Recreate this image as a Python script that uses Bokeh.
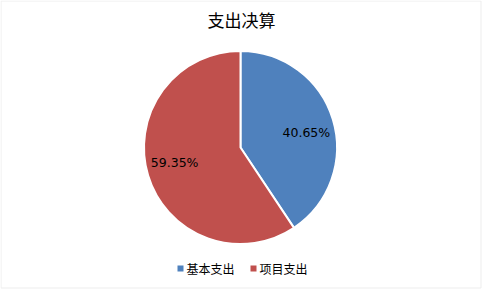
import math
from bokeh.plotting import figure
from bokeh.models import Range1d, ColumnDataSource
from bokeh.core.properties import value
from bokeh.embed import file_html
from bokeh.resources import INLINE

title = "支出决算"
categories = ["基本支出", "项目支出"]
shares = [40.65, 59.35]
colors = ["#4F81BD", "#C0504D"]

W, H = 482, 290
p = figure(width=W, height=H, output_backend="svg", toolbar_location=None,
           x_range=Range1d(0, W), y_range=Range1d(0, H), min_border=0)
p.axis.visible = False
p.grid.visible = False
p.outline_line_color = None
p.background_fill_color = "white"
p.border_fill_color = "white"

# chart frame
p.quad(left=[0.5], right=[480.5], bottom=[H - 287.5], top=[H - 0.5],
       fill_color=None, line_color="#EDEDED", line_width=1)

# pie, starting at 12 o'clock and running clockwise
cx, cy, r = 240, H - 147, 96.5
total = sum(shares)
starts, ends, lx, ly, labels = [], [], [], [], []
acc = 0.0
for s in shares:
    a0 = math.pi / 2 - 2 * math.pi * acc / total
    a1 = math.pi / 2 - 2 * math.pi * (acc + s) / total
    starts.append(a0)
    ends.append(a1)
    mid = (a0 + a1) / 2 - 0.07
    lx.append(cx + 0.70 * r * math.cos(mid))
    ly.append(cy + 0.70 * r * math.sin(mid))
    labels.append(f"{s:.2f}%")
    acc += s

src = ColumnDataSource(dict(start=starts, end=ends, color=colors,
                            lx=lx, ly=ly, label=labels))
p.wedge(x=cx, y=cy, radius=r, start_angle="start", end_angle="end",
        direction="clock", fill_color="color", line_color="white",
        line_width=2, source=src)
p.text(x="lx", y="ly", text="label", source=src, text_align="center",
       text_baseline="middle", text_font=value("DejaVu Sans"),
       text_font_size="12.5px", text_color="#000000")

# title
p.text(x=[W / 2], y=[H - 19], text=[title], text_align="center",
       text_baseline="middle", text_font=value("Noto Sans CJK SC"),
       text_font_size="17px", text_color="#000000")

# legend
leg_x = [180, 253]
leg_y = [H - 268] * 2
p.scatter(x=leg_x, y=leg_y, marker="square", size=6, fill_color=colors,
          line_color=None)
p.text(x=[x + 6 for x in leg_x], y=leg_y, text=categories,
       text_align="left", text_baseline="middle",
       text_font=value("Noto Sans CJK SC"), text_font_size="12px",
       text_color="#000000")

open("out.html", "w").write(file_html(p, INLINE))
